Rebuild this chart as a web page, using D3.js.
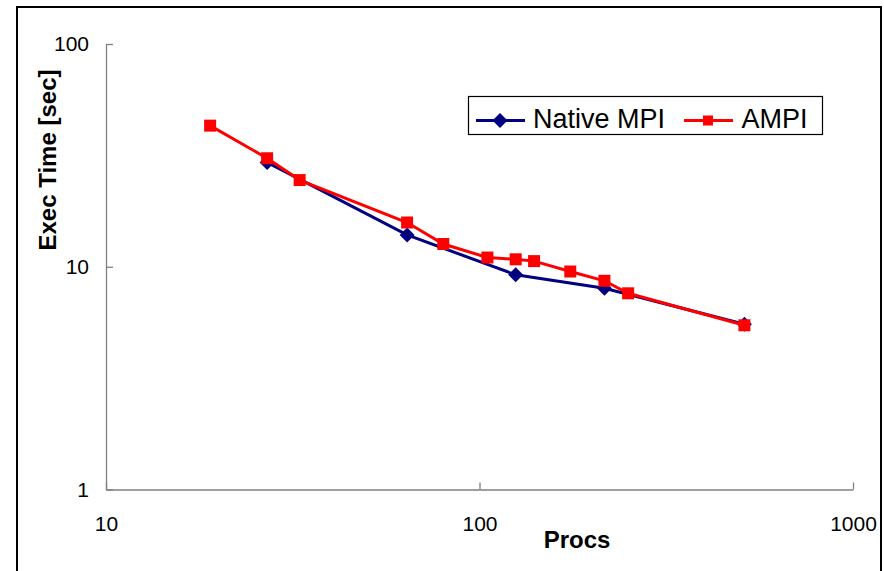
<!DOCTYPE html>
<html>
<head>
<meta charset="utf-8">
<script src="https://cdn.jsdelivr.net/npm/d3@7"></script>
<style>
  body { margin: 0; background: #fff; }
  text { font-family: "Liberation Sans", Arial, sans-serif; }
</style>
</head>
<body>
<div id="chart"></div>
<script>
// data
const nativeProcs = [27, 64, 125, 216, 512];
const nativeTime = [29.4, 13.9, 9.2, 8.0, 5.52];
const ampiProcs = [19, 27, 33, 64, 80, 105, 125, 140, 175, 216, 250, 512];
const ampiTime = [43.0, 30.7, 24.5, 15.8, 12.65, 11.0, 10.8, 10.6, 9.52, 8.65, 7.6, 5.46];
const xTicks = [10, 100, 1000];
const yTicks = [1, 10, 100];

const W = 884, H = 571;
const MARGIN = { TOP: 44, BOTTOM: 81.5, LEFT: 106, RIGHT: 31 };
const WIDTH = W - MARGIN.LEFT - MARGIN.RIGHT;
const HEIGHT = H - MARGIN.TOP - MARGIN.BOTTOM;

const svg = d3.select("#chart").append("svg")
  .attr("width", W)
  .attr("height", H);

// outer frame
svg.append("rect")
  .attr("x", 17).attr("y", 7)
  .attr("width", 864).attr("height", 600)
  .attr("fill", "none")
  .attr("stroke", "#000")
  .attr("stroke-width", 2);

const g = svg.append("g")
  .attr("transform", `translate(${MARGIN.LEFT},${MARGIN.TOP})`);

const x = d3.scaleLog().domain([10, 1000]).range([0, WIDTH]);
const y = d3.scaleLog().domain([1, 100]).range([HEIGHT, 0]);

// axes, ticks point inward
const xAxis = g.append("g")
  .attr("transform", `translate(0,${HEIGHT})`)
  .call(d3.axisBottom(x).tickValues(xTicks).tickFormat(d3.format("d"))
    .tickSizeInner(-7).tickSizeOuter(0).tickPadding(27));

const yAxis = g.append("g")
  .call(d3.axisLeft(y).tickValues(yTicks).tickFormat(d3.format("d"))
    .tickSizeInner(-7).tickSizeOuter(0).tickPadding(17));

[xAxis, yAxis].forEach(a => {
  a.select(".domain").attr("stroke", "#808080").attr("stroke-width", 1.3);
  a.selectAll(".tick line").attr("stroke", "#808080").attr("stroke-width", 1.3);
  a.selectAll(".tick text")
    .attr("fill", "#000")
    .style("font-size", "21px")
    .style("font-family", "'Liberation Sans', Arial, sans-serif");
});

// axis titles
svg.append("text")
  .attr("x", 577).attr("y", 548)
  .attr("text-anchor", "middle")
  .style("font-size", "24px").style("font-weight", "bold")
  .text("Procs");

svg.append("text")
  .attr("transform", "translate(56,160) rotate(-90)")
  .attr("text-anchor", "middle")
  .style("font-size", "24px").style("font-weight", "bold")
  .text("Exec Time [sec]");

const line = d3.line()
  .x(d => x(d[0]))
  .y(d => y(d[1]));

const nativeData = d3.zip(nativeProcs, nativeTime);
const ampiData = d3.zip(ampiProcs, ampiTime);

const BLUE = "#000080", RED = "#ff0000";

// native MPI line + diamonds
g.append("path")
  .datum(nativeData)
  .attr("d", line)
  .attr("fill", "none")
  .attr("stroke", BLUE)
  .attr("stroke-width", 3);

const diamond = d3.symbol(d3.symbolSquare, 112);
g.selectAll(".native")
  .data(nativeData)
  .enter().append("path")
  .attr("class", "native")
  .attr("d", diamond)
  .attr("transform", d => `translate(${x(d[0])},${y(d[1])}) rotate(45)`)
  .attr("fill", BLUE);

// AMPI line + squares
g.append("path")
  .datum(ampiData)
  .attr("d", line)
  .attr("fill", "none")
  .attr("stroke", RED)
  .attr("stroke-width", 3);

const square = d3.symbol(d3.symbolSquare, 144);
g.selectAll(".ampi")
  .data(ampiData)
  .enter().append("path")
  .attr("class", "ampi")
  .attr("d", square)
  .attr("transform", d => `translate(${x(d[0])},${y(d[1])})`)
  .attr("fill", RED);

// legend
const legend = svg.append("g");
legend.append("rect")
  .attr("x", 468.5).attr("y", 96.5)
  .attr("width", 354).attr("height", 38)
  .attr("fill", "#fff")
  .attr("stroke", "#000")
  .attr("stroke-width", 1.2);

legend.append("line")
  .attr("x1", 476).attr("x2", 525).attr("y1", 120.5).attr("y2", 120.5)
  .attr("stroke", BLUE).attr("stroke-width", 3);
legend.append("path")
  .attr("d", d3.symbol(d3.symbolSquare, 112))
  .attr("transform", "translate(500,120.5) rotate(45)")
  .attr("fill", BLUE);
legend.append("text")
  .attr("x", 533).attr("y", 127.5)
  .style("font-size", "27px")
  .text("Native MPI");

legend.append("line")
  .attr("x1", 684).attr("x2", 733).attr("y1", 120.5).attr("y2", 120.5)
  .attr("stroke", RED).attr("stroke-width", 3);
legend.append("path")
  .attr("d", d3.symbol(d3.symbolSquare, 100))
  .attr("transform", "translate(708,120.5)")
  .attr("fill", RED);
legend.append("text")
  .attr("x", 741.5).attr("y", 127.5)
  .style("font-size", "27px")
  .text("AMPI");
</script>
</body>
</html>
